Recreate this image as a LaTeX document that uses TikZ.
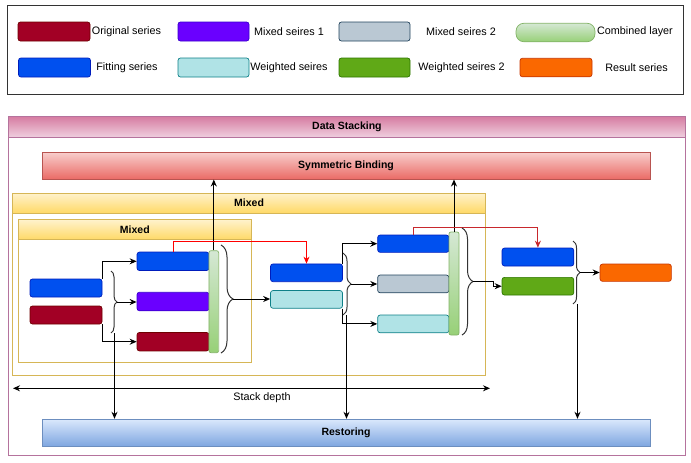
\documentclass[tikz,border=0pt]{standalone}
\usepackage{fontspec}
\setmainfont{Liberation Sans}
\usetikzlibrary{arrows.meta,positioning,calc,decorations.pathreplacing}
\definecolor{origfill}{HTML}{A20025}\definecolor{origline}{HTML}{6F0000}
\definecolor{mixfill}{HTML}{6A00FF}\definecolor{mixline}{HTML}{3700CC}
\definecolor{greyfill}{HTML}{BAC8D3}\definecolor{greyline}{HTML}{23445D}
\definecolor{fitfill}{HTML}{0050EF}\definecolor{fitline}{HTML}{001DBC}
\definecolor{wgtfill}{HTML}{B0E3E6}\definecolor{wgtline}{HTML}{0E8088}
\definecolor{grnfill}{HTML}{60A917}\definecolor{grnline}{HTML}{2D7600}
\definecolor{resfill}{HTML}{FA6800}\definecolor{resline}{HTML}{C73500}
\definecolor{combtop}{HTML}{D5E8D4}\definecolor{combbot}{HTML}{97D077}\definecolor{combline}{HTML}{82B366}
\definecolor{stacktop}{HTML}{D67CA1}\definecolor{stackbot}{HTML}{EFCFDF}\definecolor{stackline}{HTML}{B5739D}
\definecolor{mixedtop}{HTML}{FFF2CC}\definecolor{mixedbot}{HTML}{FFD966}\definecolor{mixedline}{HTML}{D6B656}
\definecolor{symtop}{HTML}{F8CECC}\definecolor{symbot}{HTML}{EA6B66}\definecolor{symline}{HTML}{B85450}
\definecolor{resttop}{HTML}{DAE8FC}\definecolor{restbot}{HTML}{7EA6E0}\definecolor{restline}{HTML}{6C8EBF}
\definecolor{darklink}{HTML}{C8282D}
\definecolor{brightlink}{HTML}{FF0000}
\begin{document}
\begin{tikzpicture}[x=1pt,y=-1pt,line width=1pt,>={Stealth[length=7pt,width=6pt]},
  font=\fontsize{10.8}{13}\selectfont,
  serie/.style={draw,rounded corners=2.5pt,minimum width=72pt,minimum height=18pt,inner sep=0pt,line width=.7pt},
  orig node/.style={serie,fill=origfill,draw=origline},
  mix1 node/.style={serie,fill=mixfill,draw=mixline},
  mix2 node/.style={serie,fill=greyfill,draw=greyline},
  fit node/.style={serie,fill=fitfill,draw=fitline},
  wgt node/.style={serie,fill=wgtfill,draw=wgtline},
  wgt2 node/.style={serie,fill=grnfill,draw=grnline},
  res node/.style={serie,fill=resfill,draw=resline},
  comb node/.style={draw=combline,top color=combtop,bottom color=combbot,rounded corners=2pt,inner sep=0pt,line width=.7pt,minimum width=10pt,minimum height=102pt},
  lane/.style={draw=#1,inner sep=0pt,line width=.8pt,anchor=north west},
  head/.style={inner sep=0pt,anchor=north west,font=\fontsize{10.5}{12}\selectfont\bfseries,line width=.8pt},
  stack head/.style={head,draw=stackline,top color=stacktop,bottom color=stackbot,minimum height=21pt},
  mixed head/.style={head,draw=mixedline,top color=mixedtop,bottom color=mixedbot,minimum height=20pt},
  band/.style={inner sep=0pt,minimum width=608pt,minimum height=27pt,font=\fontsize{10.5}{12}\selectfont\bfseries,line width=.8pt},
  red link/.style={->,color=#1,line width=1pt},
  join brace/.style={decorate,decoration={brace,amplitude=#1},draw=black!80}]
\useasboundingbox (0,0) rectangle (691,463);
% legend
\node[lane=black!80,minimum width=676pt,minimum height=89pt] (legend) at (7,5) {};
\begin{scope}
\node[orig node,minimum height=19pt] (sw1) at (54,31.5) {};
\node[mix1 node,minimum width=71pt,minimum height=19pt] (sw2) at (213.5,31.5) {};
\node[mix2 node,minimum width=71pt,minimum height=19pt] (sw3) at (374.5,31.5) {};
\node[comb node,rounded corners=8pt,minimum width=79pt,minimum height=18.5pt] (sw4) at (555.5,32.5) {};
\node[fit node,minimum height=19pt] (sw5) at (54.5,67.5) {};
\node[wgt node,minimum width=71pt,minimum height=19pt] (sw6) at (213.5,67.5) {};
\node[wgt2 node,minimum width=71pt,minimum height=19pt] (sw7) at (374.5,67.5) {};
\node[res node,minimum height=18.5pt] (sw8) at (556,67.5) {};
\node (t1) at (126.5,31.5) {Original series};
\node (t2) at (289,31.5) {Mixed seires 1};
\node (t3) at (461,31.5) {Mixed seires 2};
\node (t4) at (635,31.5) {Combined layer};
\node (t5) at (127,67.5) {Fitting series};
\node (t6) at (289,67.5) {Weighted seires};
\node (t7) at (461.5,67.5) {Weighted seires 2};
\node (t8) at (636.5,67.5) {Result series};
\end{scope}
% lanes
\node[lane=stackline,minimum width=677pt,minimum height=339pt] (stack) at (8,116) {};
\node[stack head,minimum width=677pt] (stackh) at (stack.north west) {Data Stacking};
\node[band,draw=symline,top color=symtop,bottom color=symbot] (sym) at (346,165.6) {Symmetric Binding};
\node[band,draw=restline,top color=resttop,bottom color=restbot] (rest) at (346,432.7) {Restoring};
\node[lane=mixedline,minimum width=472.7pt,minimum height=182.3pt] (mixo) at (12.3,192.7) {};
\node[mixed head,minimum width=472.7pt] (mixoh) at (mixo.north west) {Mixed};
\node[lane=mixedline,minimum width=232.2pt,minimum height=142.2pt] (mixi) at (18.3,219.3) {};
\node[mixed head,minimum width=232.2pt] (mixih) at (mixi.north west) {Mixed};
% series
\begin{scope}
\node[fit node] (lb) at (66,288) {};
\node[orig node] (lr) at (66,315) {};
\node[fit node,minimum height=18.5pt] (mb) at (173,261.3) {};
\node[mix1 node,minimum height=18.5pt] (mp) at (173,301.5) {};
\node[orig node,minimum height=18.5pt] (mr) at (173,341.7) {};
\node[comb node,minimum width=9.7pt] (bar1) at (213.8,301.7) {};
\node[fit node,minimum height=17.7pt] (b2) at (306.5,272.8) {};
\node[wgt node,minimum height=17.7pt] (c2) at (306.5,299.4) {};
\node[fit node,minimum width=71.3pt,minimum height=17.3pt] (b3) at (413.3,243.7) {};
\node[mix2 node,minimum width=71.3pt,minimum height=17.7pt] (g3) at (413.3,283.9) {};
\node[wgt node,minimum width=71.3pt,minimum height=17.7pt] (c3) at (413.3,323.9) {};
\node[comb node,minimum height=103pt] (bar2) at (454,283.5) {};
\node[fit node,minimum width=71.7pt] (b4) at (537.9,257) {};
\node[wgt2 node,minimum width=71.7pt,minimum height=17.7pt] (g4) at (537.9,286.2) {};
\node[res node,minimum width=71.3pt,minimum height=17.3pt] (res) at (635.7,272.7) {};
\end{scope}
\coordinate (k1t) at (111,271); \coordinate (k1b) at (111,333);
\coordinate (k2t) at (221,245); \coordinate (k2b) at (221,353);
\coordinate (k3t) at (343,253); \coordinate (k3b) at (343,315);
\coordinate (k4t) at (462,228); \coordinate (k4b) at (462,335);
\coordinate (k5t) at (573,241); \coordinate (k5b) at (573,304);
\coordinate (k1) at ($(k1t)!.5!(k1b)+(6,0)$);
\coordinate (k2) at ($(k2t)!.5!(k2b)+(12,0)$);
\coordinate (k3) at ($(k3t)!.5!(k3b)+(8,0)$);
\coordinate (k4) at ($(k4t)!.5!(k4b)+(11,0)$);
\coordinate (k5) at ($(k5t)!.5!(k5b)+(7,0)$);
\coordinate (d1) at (114.5,333); \coordinate (d2) at (346.5,315); \coordinate (d3) at (577.5,304);
\coordinate (sdl) at (13,388.3); \coordinate (sdr) at (490,388.3);
% connectors
\begin{scope}
\draw[->] (lb.north east) |- (mb.west);
\draw[->] (lr.south east) |- (mr.west);
\draw[join brace=6] (k1t) -- (k1b);
\draw[->] (k1) -- (k1 -| mp.west);
\draw[join brace=12] (k2t) -- (k2b);
\draw[->] (k2) -- (k2 -| c2.west);
\draw[->] (bar1.north) -- (bar1.north |- sym.south);
\draw[red link=brightlink] (mb.north) -- ++(0,-10.5) -| (b2.north);
\draw[->] (b2.north east) |- (b3.west);
\draw[->] (c2.south east) |- (c3.west);
\draw[join brace=8] (k3t) -- (k3b);
\draw[->] (k3) -- (k3 -| g3.west);
\draw[->] (bar2.north) -- (bar2.north |- sym.south);
\draw[red link=darklink] (b3.north) -- ++(0,-7.5) -| (b4.north);
\draw[join brace=11] (k4t) -- (k4b);
\draw[->] (k4) -- ++(20,0) |- (g4.west);
\draw[join brace=7] (k5t) -- (k5b);
\draw[->] (k5) -- (k5 -| res.west);
\draw[->] (d1) -- (d1 |- rest.north);
\draw[->] (d2) -- (d2 |- rest.north);
\draw[->] (d3) -- (d3 |- rest.north);
\draw[<->] (sdl) -- (sdr);
\end{scope}
\node (sdtext) at (262,397.5) {Stack depth};
\end{tikzpicture}
\end{document}
